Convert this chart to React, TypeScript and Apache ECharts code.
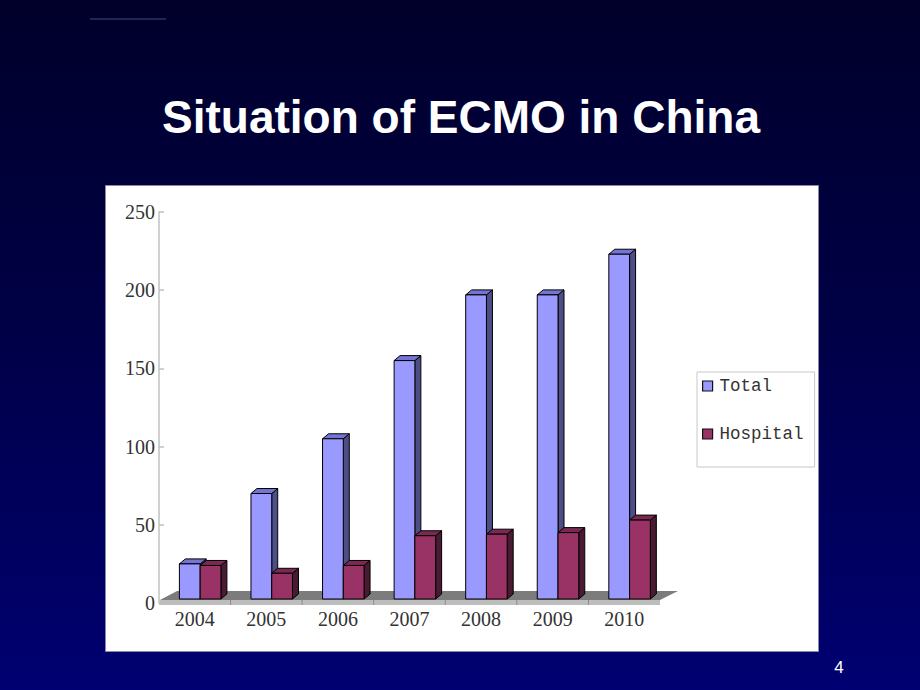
import React, { useEffect, useRef } from "react";
import * as echarts from "echarts";

const years = ["2004", "2005", "2006", "2007", "2008", "2009", "2010"];
const totalValues = [25, 70, 105, 155, 197, 197, 223];
const hospitalValues = [24, 19, 24, 43, 44, 45, 53];
const seriesNames = ["Total", "Hospital"];
const titleText = "Situation of ECMO in China";
const pageNumber = "4";

const palettes = [
  { front: "#9999ff", top: "#7474d2", side: "#4d4d88" },
  { front: "#993366", top: "#7a2952", side: "#4a1a32" },
];

function makeBarRenderer(slot: number) {
  const pal = palettes[slot];
  return (params: any, api: any) => {
    const idx = api.value(0);
    const val = api.value(1);
    const top = api.coord([idx, val]);
    const base = api.coord([idx, 0]);
    const band = api.size([1, 0])[0];
    const w = band * 0.29;
    const junction = top[0] + band * 0.075;
    const L = slot === 0 ? junction - w : junction;
    const R = L + w;
    const yT = top[1];
    const yB = base[1] - 4;
    const dx = 6;
    const dy = -5;
    const stroke = { stroke: "#000", lineWidth: 1 };
    return {
      type: "group",
      children: [
        {
          type: "polygon",
          shape: { points: [[R, yT], [R + dx, yT + dy], [R + dx, yB + dy], [R, yB]] },
          style: { fill: pal.side, ...stroke },
        },
        {
          type: "polygon",
          shape: { points: [[L, yT], [R, yT], [R + dx, yT + dy], [L + dx, yT + dy]] },
          style: { fill: pal.top, ...stroke },
        },
        {
          type: "rect",
          shape: { x: L, y: yT, width: w, height: yB - yT },
          style: { fill: pal.front, ...stroke },
        },
      ],
    };
  };
}

function floorRenderer(params: any, api: any) {
  const cs = params.coordSys;
  const x0 = cs.x + 1;
  const x1 = cs.x + cs.width;
  const yb = cs.y + cs.height;
  const band = cs.width / years.length;
  const children: any[] = [
    {
      type: "polygon",
      shape: { points: [[x0, yb - 3], [x1, yb - 3], [x1 + 18, yb - 12], [x0 + 17, yb - 12]] },
      style: { fill: "#7c7c7c" },
    },
    {
      type: "polygon",
      shape: { points: [[x0 - 1, yb + 2], [x1, yb + 2], [x1, yb - 3], [x0, yb - 3]] },
      style: { fill: "#bdbdbd" },
    },
  ];
  for (let k = 1; k < years.length; k++) {
    const x = cs.x + k * band;
    children.push({
      type: "line",
      shape: { x1: x, y1: yb - 3, x2: x, y2: yb + 2 },
      style: { stroke: "#8c8c8c", lineWidth: 1 },
    });
  }
  return { type: "group", children };
}

export default function App() {
  const ref = useRef<HTMLDivElement>(null);
  useEffect(() => {
    if (!ref.current) return;
    const chart = echarts.init(ref.current, null, { renderer: "svg" });
    const axisFont = { fontFamily: "Liberation Serif", fontSize: 20, color: "#333" };
    chart.setOption({
      animation: false,
      grid: { left: 159, top: 212, width: 501, height: 391 },
      graphic: [
        {
          type: "line",
          shape: { x1: 90, y1: 19, x2: 166, y2: 19 },
          style: { stroke: "#4a4d75", lineWidth: 1 },
          z: 0,
        },
        {
          type: "text",
          x: 461,
          y: 117,
          style: {
            text: titleText,
            fill: "#fff",
            font: "bold 46px 'Liberation Sans', Arial, sans-serif",
            align: "center",
            verticalAlign: "middle",
          },
          z: 0,
        },
        {
          type: "rect",
          shape: { x: 105.5, y: 185.5, width: 713, height: 466 },
          style: { fill: "#fff", stroke: "#8a8aa8", lineWidth: 1 },
          z: -1,
        },
        {
          type: "text",
          x: 839,
          y: 667,
          style: {
            text: pageNumber,
            fill: "#fff",
            font: "17px 'Liberation Sans', Arial, sans-serif",
            align: "center",
            verticalAlign: "middle",
          },
          z: 0,
        },
      ],
      legend: {
        orient: "vertical",
        left: 697,
        top: 372,
        selectedMode: false,
        itemWidth: 10,
        itemHeight: 10,
        itemGap: 30,
        padding: [5, 11, 24, 5],
        backgroundColor: "#fff",
        borderColor: "#c8c8c8",
        borderWidth: 1,
        textStyle: { fontFamily: "Liberation Mono", fontSize: 17.5, color: "#333", padding: [0, 0, 0, 2] },
        data: seriesNames.map((n, i) => ({
          name: n,
          icon: "rect",
          itemStyle: { color: palettes[i].front, borderColor: "#111", borderWidth: 1.2 },
        })),
      },
      xAxis: {
        type: "category",
        data: years,
        boundaryGap: true,
        axisLine: { show: false },
        axisTick: { show: false },
        axisLabel: { ...axisFont, margin: 6 },
        splitLine: { show: false },
      },
      yAxis: {
        type: "value",
        min: 0,
        max: 250,
        interval: 50,
        axisLine: { show: true, lineStyle: { color: "#c0c0c0", width: 1.5 } },
        axisTick: { show: true, inside: true, length: 5, lineStyle: { color: "#c0c0c0", width: 1.5 } },
        axisLabel: { ...axisFont, margin: 4 },
        splitLine: { show: false },
      },
      series: [
        {
          name: "floor",
          type: "custom",
          silent: true,
          z: 1,
          renderItem: floorRenderer,
          data: [[0, 0]],
          encode: { x: 0, y: 1 },
        },
        {
          name: seriesNames[0],
          type: "custom",
          z: 2,
          itemStyle: { color: palettes[0].front },
          renderItem: makeBarRenderer(0),
          data: totalValues.map((v, i) => [i, v]),
          encode: { x: 0, y: 1 },
        },
        {
          name: seriesNames[1],
          type: "custom",
          z: 3,
          itemStyle: { color: palettes[1].front },
          renderItem: makeBarRenderer(1),
          data: hospitalValues.map((v, i) => [i, v]),
          encode: { x: 0, y: 1 },
        },
      ],
    });
    return () => chart.dispose();
  }, []);
  return (
    <div
      ref={ref}
      style={{
        position: "fixed",
        left: 0,
        top: 0,
        width: 920,
        height: 690,
        background: "linear-gradient(to bottom, #00002a 0%, #000048 50%, #000072 100%)",
      }}
    />
  );
}
